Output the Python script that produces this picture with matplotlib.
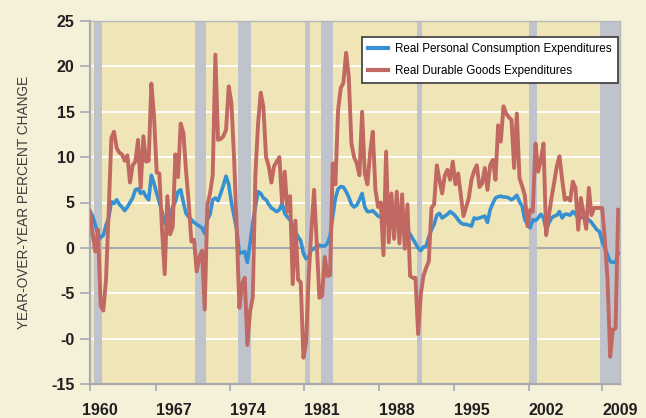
import numpy as np
import matplotlib
matplotlib.use("Agg")
import matplotlib.pyplot as plt
from matplotlib.transforms import ScaledTranslation

# year-over-year percent change, quarterly 1960Q1 - 2009Q3
pce = [
    4.0, 3.5, 2.5, 1.5,     # 1960
    1.1, 1.4, 2.5, 3.3,     # 1961
    5.1, 4.9, 5.3, 4.8,     # 1962
    4.5, 4.1, 4.5, 5.0,     # 1963
    5.5, 6.4, 6.5, 6.0,     # 1964
    6.2, 5.65, 5.3, 8.0,    # 1965
    7.1, 6.0, 5.0, 4.0,     # 1966
    2.7, 3.1, 3.4, 4.5,     # 1967
    5.1, 6.2, 6.4, 5.0,     # 1968
    3.8, 3.4, 3.1, 2.8,     # 1969
    2.6, 2.4, 2.2, 1.6,     # 1970
    3.1, 3.7, 5.3, 5.5,     # 1971
    5.2, 6.0, 6.9, 7.9,     # 1972
    7.0, 5.0, 3.5, 2.0,     # 1973
    -0.6, -0.5, -0.4, -1.6, # 1974
    0.5, 2.7, 4.5, 6.2,     # 1975
    6.0, 5.5, 5.3, 4.8,     # 1976
    4.4, 4.2, 4.0, 4.2,     # 1977
    4.9, 3.8, 3.4, 3.1,     # 1978
    2.4, 1.8, 1.2, 0.8,     # 1979
    -0.6, -1.2, -1.0, -0.2, # 1980
    -0.1, 0.2, 0.3, 0.2,    # 1981
    0.2, 0.5, 1.3, 3.5,     # 1982
    5.5, 6.5, 6.75, 6.7,    # 1983
    6.2, 5.6, 4.8, 4.5,     # 1984
    4.7, 5.3, 6.0, 4.5,     # 1985
    4.0, 4.0, 4.1, 3.8,     # 1986
    3.5, 3.4, 3.3, 3.1,     # 1987
    3.0, 2.9, 3.0, 3.0,     # 1988
    2.8, 2.6, 2.3, 2.0,     # 1989
    1.5, 1.0, 0.5, 0.0,     # 1990
    -0.3, 0.1, 0.2, 1.2,    # 1991
    2.0, 2.6, 3.6, 3.8,     # 1992
    3.3, 3.5, 3.7, 4.0,     # 1993
    3.8, 3.5, 3.1, 2.75,    # 1994
    2.6, 2.6, 2.5, 2.4,     # 1995
    3.3, 3.2, 3.3, 3.4,     # 1996
    3.5, 2.8, 4.2, 4.9,     # 1997
    5.5, 5.65, 5.7, 5.6,    # 1998
    5.6, 5.5, 5.3, 5.5,     # 1999
    5.8, 5.1, 4.6, 3.1,     # 2000
    2.6, 2.2, 3.1, 3.0,     # 2001
    3.3, 3.7, 3.3, 2.0,     # 2002
    2.7, 3.3, 3.5, 3.6,     # 2003
    4.0, 3.3, 3.7, 3.7,     # 2004
    3.6, 4.0, 3.7, 3.3,     # 2005
    3.4, 3.3, 3.2, 3.1,     # 2006
    2.8, 2.4, 2.0, 1.8,     # 2007
    0.7, 0.0, -0.8, -1.5,   # 2008
    -1.6, -1.6, -0.6,       # 2009
]

durables = [
    4.0, 1.5, -0.4, 2.0,      # 1960
    -6.4, -6.9, -3.5, 4.0,    # 1961
    12.1, 12.8, 11.0, 10.5,   # 1962
    10.3, 9.6, 10.2, 7.2,     # 1963
    9.1, 9.5, 11.9, 6.6,      # 1964
    12.3, 9.5, 9.6, 18.1,     # 1965
    14.5, 8.3, 8.2, 2.0,      # 1966
    -2.9, 5.7, 1.5, 2.3,      # 1967
    10.3, 7.8, 13.7, 12.7,    # 1968
    8.5, 5.0, 0.7, 0.9,       # 1969
    -2.6, -1.0, -0.3, -6.8,   # 1970
    4.7, 6.0, 8.0, 21.3,      # 1971
    11.9, 12.0, 12.3, 13.0,   # 1972
    17.8, 16.0, 10.0, 2.0,    # 1973
    -6.6, -4.0, -3.3, -10.7,  # 1974
    -7.0, -5.5, 8.0, 13.7,    # 1975
    17.1, 15.5, 10.0, 9.0,    # 1976
    7.2, 9.0, 9.5, 10.0,      # 1977
    5.0, 8.4, 4.0, 5.7,       # 1978
    -4.0, 3.0, -3.5, -3.8,    # 1979
    -12.1, -10.5, -3.0, 2.0,  # 1980
    6.4, 0.5, -5.5, -5.3,     # 1981
    -1.0, -3.1, -3.0, 9.3,    # 1982
    7.0, 15.2, 17.6, 18.2,    # 1983
    21.5, 18.9, 11.5, 10.0,   # 1984
    9.3, 8.0, 15.0, 8.2,      # 1985
    7.0, 10.5, 12.8, 6.4,     # 1986
    4.5, 5.0, -0.8, 10.6,     # 1987
    0.6, 6.0, 1.0, 6.2,       # 1988
    0.5, 5.9, -0.1, 4.8,      # 1989
    -3.1, -3.3, -3.3, -9.5,   # 1990
    -5.1, -3.1, -2.2, -1.5,   # 1991
    4.4, 4.8, 9.1, 7.5,       # 1992
    6.0, 8.0, 8.6, 7.5,       # 1993
    9.5, 7.0, 8.2, 5.8,       # 1994
    3.5, 4.5, 5.5, 7.5,       # 1995
    8.5, 9.1, 6.7, 7.1,       # 1996
    8.8, 6.4, 9.1, 9.7,       # 1997
    7.5, 13.5, 11.7, 15.6,    # 1998
    14.8, 14.4, 14.1, 8.8,    # 1999
    14.8, 7.7, 6.8, 5.8,      # 2000
    2.4, 4.2, 4.0, 11.5,      # 2001
    8.4, 9.7, 11.5, 1.4,      # 2002
    3.5, 5.5, 7.2, 9.0,       # 2003
    10.1, 7.5, 5.3, 5.5,      # 2004
    5.2, 7.3, 6.6, 2.0,       # 2005
    5.5, 3.8, 2.1, 6.6,       # 2006
    3.6, 4.4, 4.4, 4.4,       # 2007
    4.4, 0.9, -3.5, -12.0,    # 2008
    -9.0, -8.9, 4.2,          # 2009
]

# recessions (shaded)
rec_start = [1960.37, 1969.84, 1973.87, 1980.12, 1981.62, 1990.65, 2001.11, 2007.83]
rec_end = [1961.10, 1970.87, 1975.12, 1980.62, 1982.80, 1991.12, 2001.89, 2009.67]

year_labels = ["1960", "1967", "1974", "1981", "1988", "1995", "2002", "2009"]
tick_pos = [1960.0, 1966.2, 1973.1, 1980.1, 1987.1, 1994.1, 2001.1, 2008.0]
y_ticks = [-15, -10, -5, 0, 5, 10, 15, 20, 25]
y_labels = ["-15", "-0", "-5", "0", "5", "10", "15", "20", "25"]

t_pce = 1960 + np.arange(len(pce)) / 4
t_dur = 1960 + np.arange(len(durables)) / 4

fonts = ["Liberation Sans", "DejaVu Sans"]

fig = plt.figure(figsize=(6.46, 4.18), dpi=100, facecolor="#f5f0d8")
ax = fig.add_axes([90 / 646, 34 / 418, 530 / 646, 363 / 418])
ax.set_facecolor("#f0e5b6")

# grid first, then recession bars, then the lines
for v in [-10, -5, 5, 10, 15, 20]:
    ax.axhline(v, color="white", lw=1.3, zorder=1)
ax.axhline(0, color="#a7aab0", lw=1.5, zorder=1)
for s, e in zip(rec_start, rec_end):
    ax.axvspan(s, e, color="#bfc3cc", lw=0, zorder=2)

ax.plot(t_pce, pce, color="#3591d1", lw=2.6, zorder=3,
        label="Real Personal Consumption Expenditures")
ax.plot(t_dur, durables, color="#c16863", lw=2.8, zorder=4,
        label="Real Durable Goods Expenditures")

ax.set_xlim(1960, 2009.67)
ax.set_ylim(-15, 25)

ax.set_yticks(y_ticks)
ax.set_yticklabels(y_labels, fontfamily=fonts, fontweight="bold", fontsize=11.5, color="#231f20")
ax.set_xticks(tick_pos)
ax.set_xticklabels(year_labels, fontfamily=fonts, fontweight="bold", fontsize=11.5,
                   color="#231f20", ha="left")
ax.tick_params(axis="y", length=7, width=1.2, color="#a7aab0", pad=4)
ax.tick_params(axis="x", length=5, width=1.2, color="#a7aab0", pad=9)
# first year label sits a bit left of the axis start
first = ax.get_xticklabels()[0]
first.set_transform(first.get_transform() + ScaledTranslation(-0.08, 0, fig.dpi_scale_trans))

for side in ["left", "bottom"]:
    ax.spines[side].set_color("#a7aab0")
    ax.spines[side].set_linewidth(1.6)
for side in ["top", "right"]:
    ax.spines[side].set_color("#b5b8bc")
    ax.spines[side].set_linewidth(1.0)

fig.text(24 / 646, 1 - 202 / 418, "YEAR-OVER-YEAR PERCENT CHANGE", rotation=90,
         ha="center", va="center", fontsize=9.8, color="#3c3c3c", fontfamily=fonts)

leg = ax.legend(loc="upper left", bbox_to_anchor=(0.5126, 0.957), borderaxespad=0,
                prop={"family": fonts, "size": 8.4}, frameon=True, fancybox=False,
                handlelength=1.7, handletextpad=0.6, borderpad=0.55, labelspacing=0.85)
leg.get_frame().set_edgecolor("#3a3a3a")
leg.get_frame().set_linewidth(1.2)
leg.get_frame().set_facecolor("white")
leg.get_frame().set_alpha(1)
for line in leg.get_lines():
    line.set_linewidth(3)

fig.savefig("out.png", dpi=100, facecolor=fig.get_facecolor())
